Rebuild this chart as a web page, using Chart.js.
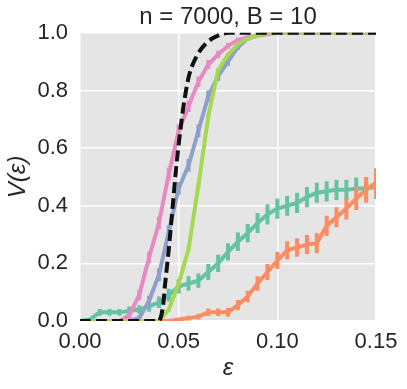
<!DOCTYPE html>
<html>
<head>
<meta charset="utf-8">
<script src="https://cdn.jsdelivr.net/npm/chart.js@4.4.0/dist/chart.umd.min.js"></script>
<style>
  html, body { margin: 0; padding: 0; background: #fff; }
  #wrap { width: 407px; height: 389px; }
</style>
</head>
<body>
<div id="wrap"><canvas id="chartV"></canvas></div>
<script>
// epsilon grid shared by the measured curves
const epsX = [0, 0.005, 0.01, 0.015, 0.02, 0.025, 0.03, 0.035, 0.04, 0.045, 0.05,
    0.055, 0.06, 0.065, 0.07, 0.075, 0.08, 0.085, 0.09, 0.095, 0.1,
    0.105, 0.11, 0.115, 0.12, 0.125, 0.13, 0.135, 0.14, 0.145, 0.15];

const tealY = [0, 0.005, 0.03, 0.03, 0.03, 0.035, 0.04, 0.05, 0.065, 0.09, 0.12,
    0.13, 0.14, 0.17, 0.2, 0.24, 0.275, 0.305, 0.34, 0.37, 0.39,
    0.4, 0.41, 0.43, 0.445, 0.45, 0.455, 0.455, 0.46, 0.46, 0.465];
const tealErr = [0, 0.005, 0.012, 0.012, 0.012, 0.015, 0.015, 0.018, 0.02, 0.022, 0.025,
    0.025, 0.025, 0.028, 0.03, 0.03, 0.032, 0.032, 0.035, 0.035, 0.035,
    0.035, 0.035, 0.035, 0.035, 0.035, 0.035, 0.035, 0.038, 0.04, 0.042];

const orangeY = [0, 0, 0, 0, 0, 0, 0, 0, 0, 0, 0.005,
    0.01, 0.015, 0.03, 0.03, 0.03, 0.055, 0.085, 0.13, 0.17, 0.21,
    0.245, 0.255, 0.265, 0.27, 0.33, 0.36, 0.39, 0.425, 0.455, 0.48];
const orangeErr = [0, 0, 0, 0, 0, 0, 0, 0, 0, 0, 0.005,
    0.008, 0.01, 0.013, 0.013, 0.015, 0.018, 0.02, 0.025, 0.028, 0.03,
    0.032, 0.032, 0.033, 0.035, 0.035, 0.035, 0.038, 0.04, 0.045, 0.05];

const blueY = [0, 0, 0, 0, 0, 0, 0.01, 0.07, 0.16, 0.31, 0.46,
    0.54, 0.66, 0.78, 0.85, 0.9, 0.95, 0.98, 0.99, 1, 1,
    1, 1, 1, 1, 1, 1, 1, 1, 1, 1];
const blueErr = [0, 0, 0, 0, 0, 0, 0.01, 0.018, 0.022, 0.022, 0.022,
    0.022, 0.022, 0.02, 0.017, 0.014, 0.01, 0.007, 0.004, 0, 0,
    0, 0, 0, 0, 0, 0, 0, 0, 0, 0];

const pinkY = [0, 0, 0, 0, 0, 0.02, 0.09, 0.22, 0.34, 0.51, 0.66,
    0.745, 0.83, 0.89, 0.925, 0.955, 0.975, 0.985, 0.99, 0.995, 1,
    1, 1, 1, 1, 1, 1, 1, 1, 1, 1];
const pinkErr = [0, 0, 0, 0, 0, 0.012, 0.018, 0.02, 0.022, 0.022, 0.022,
    0.02, 0.018, 0.016, 0.013, 0.01, 0.008, 0.006, 0.005, 0.003, 0,
    0, 0, 0, 0, 0, 0, 0, 0, 0, 0];

const greenY = [0, 0, 0, 0, 0, 0, 0, 0, 0, 0.04, 0.13,
    0.25, 0.47, 0.71, 0.87, 0.925, 0.96, 0.98, 0.99, 1, 1,
    1, 1, 1, 1, 1, 1, 1, 1, 1, 1];
const greenErr = [0, 0, 0, 0, 0, 0, 0, 0, 0, 0.006, 0.008,
    0.01, 0.01, 0.009, 0.007, 0.005, 0.004, 0.003, 0.002, 0, 0,
    0, 0, 0, 0, 0, 0, 0, 0, 0, 0];

// theoretical curve (dashed)
const theoryX = [0, 0.035, 0.04, 0.042, 0.043, 0.045, 0.047, 0.049, 0.051, 0.053,
    0.056, 0.061, 0.067, 0.075, 0.15];
const theoryY = [0, 0, 0, 0.05, 0.12, 0.25, 0.4, 0.55, 0.67, 0.77,
    0.87, 0.94, 0.98, 1, 1];

const xTicks = [0, 0.05, 0.1, 0.15];
const yTicks = [0, 0.2, 0.4, 0.6, 0.8, 1.0];

const pts = (xs, ys) => xs.map((x, i) => ({ x: x, y: ys[i] }));

const FONT = "'Liberation Sans', Arial, sans-serif";
const TXT = '#262626';

function series(ys, err, color) {
    return {
        data: pts(epsX, ys),
        errors: err,
        borderColor: color,
        backgroundColor: color,
        borderWidth: 4,
        pointRadius: 0,
        tension: 0,
        clip: 0
    };
}

const bgPlugin = {
    id: 'panelBg',
    afterLayout(chart) {
        // center the title over the plot area, not the whole canvas
        if (chart.titleBlock) {
            chart.titleBlock.left = chart.chartArea.left;
            chart.titleBlock.right = chart.chartArea.right;
        }
    },
    beforeDraw(chart) {
        const a = chart.chartArea, ctx = chart.ctx;
        ctx.save();
        ctx.fillStyle = '#e5e5e5';
        ctx.fillRect(a.left, a.top, a.right - a.left, a.bottom - a.top);
        ctx.restore();
    }
};

// vertical error bars, drawn right after each line
const errPlugin = {
    id: 'errBars',
    afterDatasetDraw(chart, args) {
        const ds = chart.data.datasets[args.index];
        if (!ds.errors) return;
        const xs = chart.scales.x, ys = chart.scales.y, ctx = chart.ctx, a = chart.chartArea;
        ctx.save();
        ctx.beginPath();
        ctx.rect(a.left, a.top, a.right - a.left, a.bottom - a.top);
        ctx.clip();
        ctx.strokeStyle = ds.borderColor;
        ctx.lineWidth = 4;
        ds.data.forEach((p, i) => {
            const e = ds.errors[i];
            if (!e) return;
            const px = xs.getPixelForValue(p.x);
            ctx.beginPath();
            ctx.moveTo(px, ys.getPixelForValue(p.y - e));
            ctx.lineTo(px, ys.getPixelForValue(p.y + e));
            ctx.stroke();
        });
        ctx.restore();
    }
};

const configChartV = {
    type: 'line',
    data: {
        datasets: [
            {
                data: pts(theoryX, theoryY),
                borderColor: '#111111',
                borderWidth: 4,
                borderDash: [11, 5],
                pointRadius: 0,
                tension: 0.3,
                clip: 0
            },
            series(greenY, greenErr, '#a6d854'),
            series(pinkY, pinkErr, '#e78ac3'),
            series(blueY, blueErr, '#8da0cb'),
            series(orangeY, orangeErr, '#fc8d62'),
            series(tealY, tealErr, '#66c2a5')
        ]
    },
    options: {
        responsive: true,
        maintainAspectRatio: false,
        animation: false,
        layout: { padding: { left: 0, right: 31, top: 0, bottom: 0 } },
        plugins: {
            legend: { display: false },
            tooltip: { enabled: false },
            title: {
                display: true,
                text: 'n = 7000, B = 10',
                color: TXT,
                font: { family: FONT, size: 24, weight: 'normal' },
                padding: { top: 3, bottom: 1 }
            }
        },
        scales: {
            x: {
                type: 'linear',
                min: 0,
                max: 0.15,
                afterBuildTicks: (s) => { s.ticks = xTicks.map(v => ({ value: v })); },
                afterFit: (s) => { s.height = 68; },
                ticks: {
                    color: TXT,
                    padding: 8,
                    maxRotation: 0,
                    font: { family: FONT, size: 22 },
                    callback: (v) => Number(v).toFixed(2)
                },
                grid: { color: '#ffffff', lineWidth: 1.5, drawTicks: false },
                border: { display: false },
                title: {
                    display: true,
                    text: 'ε',
                    color: TXT,
                    font: { family: FONT, size: 24, style: 'italic' },
                    padding: { top: 0, bottom: 6 }
                }
            },
            y: {
                type: 'linear',
                min: 0,
                max: 1,
                afterBuildTicks: (s) => { s.ticks = yTicks.map(v => ({ value: v })); },
                afterFit: (s) => { s.width = 80; },
                ticks: {
                    color: TXT,
                    padding: 12,
                    font: { family: FONT, size: 22 },
                    callback: (v) => Number(v).toFixed(1)
                },
                grid: { color: '#ffffff', lineWidth: 1.5, drawTicks: false },
                border: { display: false },
                title: {
                    display: true,
                    text: 'V(ε)',
                    color: TXT,
                    font: { family: FONT, size: 24, style: 'italic' },
                    padding: { top: 4, bottom: 0 }
                }
            }
        }
    },
    plugins: [bgPlugin, errPlugin]
};

let chartV = document.getElementById('chartV');
let oChartV = new Chart(chartV, configChartV);
</script>
</body>
</html>
